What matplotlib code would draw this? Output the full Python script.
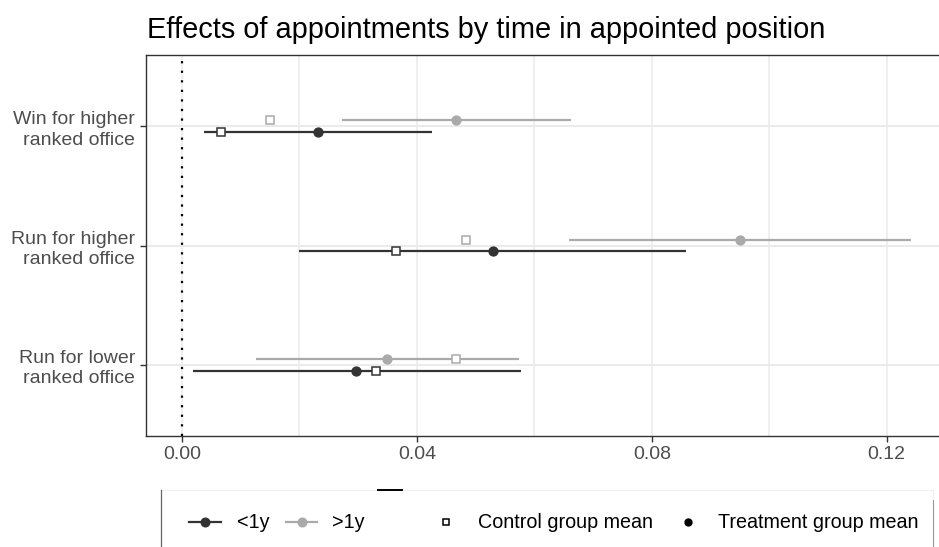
import matplotlib
matplotlib.use("Agg")
import matplotlib.pyplot as plt
from matplotlib.lines import Line2D
from matplotlib.patches import Rectangle
import numpy as np

plt.rcParams['font.family'] = ['Liberation Sans', 'DejaVu Sans']

# ---- data ----
outcomes = ["Win for higher\nranked office", "Run for higher\nranked office", "Run for lower\nranked office"]
groups = ["<1y", ">1y"]
# per group, per outcome
treat_mean = {"<1y": [0.0232, 0.0529, 0.0297], ">1y": [0.0466, 0.0950, 0.0349]}
ci_low = {"<1y": [0.0038, 0.0200, 0.0019], ">1y": [0.0272, 0.0659, 0.0126]}
ci_high = {"<1y": [0.0425, 0.0859, 0.0577], ">1y": [0.0662, 0.1241, 0.0574]}
control_mean = {"<1y": [0.0066, 0.0364, 0.0330], ">1y": [0.0150, 0.0483, 0.0466]}
xticks = [0.00, 0.04, 0.08, 0.12]
xtick_labels = ["0.00", "0.04", "0.08", "0.12"]

colors = {"<1y": "#333333", ">1y": "#AAAAAA"}
offsets = {"<1y": -0.05, ">1y": 0.05}

W, H = 939, 547
fig = plt.figure(figsize=(W / 100, H / 100), dpi=100)
ax = fig.add_axes([146 / W, (H - 436) / H, (W - 146) / W, (436 - 55) / H])

ypos = np.array([3, 2, 1], dtype=float)

# grid
for xv in np.arange(0.0, 0.13, 0.02):
    ax.axvline(xv, color="#EBEBEB", lw=1.1, zorder=0)
for yv in ypos:
    ax.axhline(yv, color="#EBEBEB", lw=1.4, zorder=0)

ax.axvline(0, color="black", lw=1.6, ls=(0, (1, 3.3)), zorder=1)

for g in groups:
    y = ypos + offsets[g]
    c = colors[g]
    ax.hlines(y, ci_low[g], ci_high[g], color=c, lw=1.6, zorder=2)
    ax.plot(treat_mean[g], y, "o", color=c, ms=6.4, zorder=3, ls="none")
    ax.plot(control_mean[g], y, "s", mfc="white", mec=c, mew=1.1, ms=5.8, zorder=4, ls="none")

ax.set_xlim(-0.00613, 0.1289)
ax.set_ylim(0.4, 3.6)
ax.set_xticks(xticks)
ax.set_xticklabels(xtick_labels)
ax.set_yticks(ypos)
ax.set_yticklabels(outcomes, ha="right", multialignment="right", linespacing=1.3)
ax.tick_params(axis="both", colors="#333333", labelcolor="#4D4D4D", labelsize=14, length=4, width=1)
ax.tick_params(axis="x", pad=3)
ax.tick_params(axis="y", pad=4)
for s in ["top", "left", "bottom"]:
    ax.spines[s].set_color("#333333")
    ax.spines[s].set_linewidth(1.0)
ax.spines["right"].set_visible(False)

fig.text(147 / W, 1 - 38 / H, "Effects of appointments by time in appointed position",
         fontsize=20.9, color="black", ha="left", va="baseline")

# ---- legend (manual, figure pixel coords) ----
def fx(px):
    return px / W

def fy(py):
    return 1 - py / H

box = Rectangle((fx(161), fy(560)), fx(933) - fx(161), fy(490) - fy(560),
                transform=fig.transFigure, facecolor="white", edgecolor="#F0F0F0", lw=0.8, zorder=5)
fig.patches.append(box)
fig.add_artist(Line2D([fx(161), fx(161)], [fy(490), 0], color="#666666", lw=0.9, transform=fig.transFigure, zorder=6))
fig.add_artist(Line2D([fx(933), fx(933)], [fy(500), 0], color="#999999", lw=0.8, transform=fig.transFigure, zorder=6))
fig.add_artist(Line2D([fx(378), fx(402)], [fy(490), fy(490)], color="black", lw=1.4, transform=fig.transFigure, zorder=6))

ly = fy(522)
for g, x0, x1, tx in [("<1y", 189, 221, 237), (">1y", 286, 317, 332)]:
    c = colors[g]
    fig.add_artist(Line2D([fx(x0), fx(x1)], [ly, ly], color=c, lw=1.6, transform=fig.transFigure, zorder=6))
    fig.add_artist(Line2D([fx((x0 + x1) / 2)], [ly], marker="o", color=c, ms=6.2, transform=fig.transFigure, zorder=7))
    fig.text(fx(tx), ly, g, fontsize=14.2, va="center", ha="left", color="black", zorder=7)

fig.add_artist(Line2D([fx(446)], [ly], marker="s", mfc="white", mec="black", mew=1.1, ms=5.0,
                      transform=fig.transFigure, zorder=7))
fig.text(fx(478), ly, "Control group mean", fontsize=14.2, va="center", ha="left", color="black", zorder=7)
fig.add_artist(Line2D([fx(688)], [ly], marker="o", color="black", ms=5.0, transform=fig.transFigure, zorder=7))
fig.text(fx(718), ly, "Treatment group mean", fontsize=14.2, va="center", ha="left", color="black", zorder=7)

fig.savefig("out.png", dpi=100)
